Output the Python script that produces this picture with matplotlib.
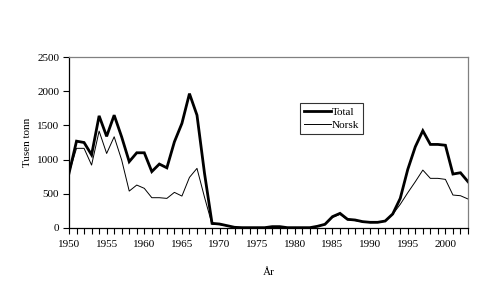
import matplotlib
matplotlib.use('Agg')
from matplotlib import pyplot as plt

YEARS = list(range(1950, 2004))

TOTAL = [800, 1270, 1250, 1070, 1640, 1340, 1650, 1330, 970, 1100,
         1100, 825, 935, 880, 1260, 1530, 1965, 1650, 800, 68,
         58, 34, 10, 5, 5, 5, 5, 20, 20, 5,
         5, 5, 5, 25, 54, 166, 214, 127, 117, 93,
         83, 83, 102, 205, 433, 857, 1188, 1422, 1222, 1222,
         1210, 789, 808, 677]

NORSK = [800, 1165, 1165, 920, 1417, 1090, 1334, 993, 540, 628,
         580, 443, 443, 433, 521, 467, 740, 872, 450, 54,
         50, 30, 8, 4, 4, 4, 4, 18, 18, 4,
         4, 4, 4, 22, 50, 155, 200, 118, 108, 88,
         78, 80, 98, 200, 346, 516, 677, 847, 726, 726,
         711, 482, 472, 424]

YTICKS = [0, 500, 1000, 1500, 2000, 2500]
XLABELS = list(range(1950, 2001, 5))

plt.rcParams['font.family'] = ['Liberation Serif', 'DejaVu Serif']

fig = plt.figure(figsize=(5.0, 2.91), dpi=100)
ax = fig.add_axes([0.138, 0.2165, 0.798, 0.5875])

ax.plot(YEARS, TOTAL, color='black', linewidth=2.0, label='Total', solid_joinstyle='miter')
ax.plot(YEARS, NORSK, color='black', linewidth=0.7, label='Norsk')

ax.set_xlim(1950, 2003)
ax.set_ylim(0, 2500)
ax.set_yticks(YTICKS)
ax.set_yticklabels([str(v) for v in YTICKS], fontsize=8)
ax.set_xticks(YEARS, minor=True)
ax.set_xticks(XLABELS)
ax.set_xticklabels([str(v) for v in XLABELS], fontsize=8)
ax.tick_params(axis='both', which='both', direction='out', length=4, width=0.8, pad=3)
ax.tick_params(axis='x', which='major', pad=5)

ax.spines['top'].set_color('#808080')
ax.spines['right'].set_color('#808080')
for s in ['left', 'bottom', 'top', 'right']:
    ax.spines[s].set_linewidth(0.9)

ax.set_ylabel('Tusen tonn', fontsize=8, labelpad=4)
ax.set_xlabel('År', fontsize=8, labelpad=13)

leg = ax.legend(loc='upper left', bbox_to_anchor=(0.6, 0.646), bbox_transform=fig.transFigure,
                fontsize=8, frameon=True, fancybox=False, edgecolor='black',
                handlelength=2.4, handletextpad=0.1, borderpad=0.35, labelspacing=0.3,
                borderaxespad=0)
leg.get_frame().set_linewidth(0.8)

fig.savefig('out.png', dpi=100)
